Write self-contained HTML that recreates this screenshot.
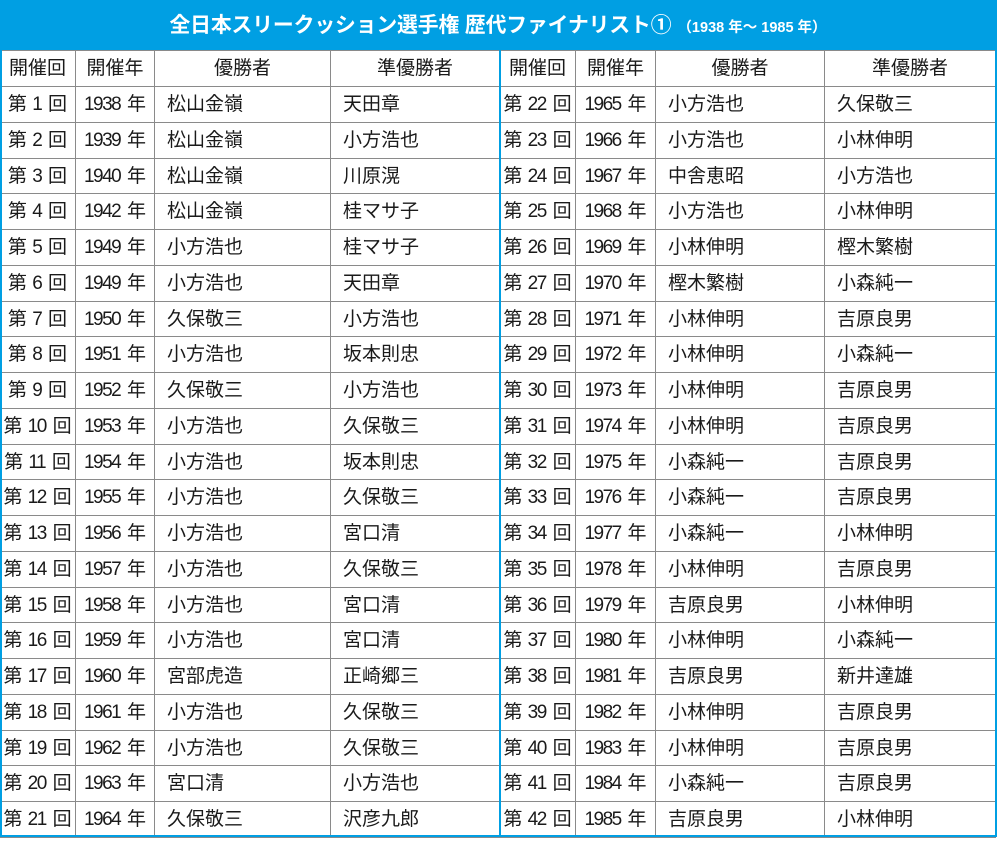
<!DOCTYPE html>
<html lang="ja">
<head>
<meta charset="utf-8">
<style>
  html,body{margin:0;padding:0;background:#fff;}
  body{width:1000px;height:842px;position:relative;overflow:hidden;
    font-family:"Liberation Sans","Noto Sans CJK JP",sans-serif;color:#1a1a1a;}
  .title{position:absolute;left:0;top:0;width:996px;height:50px;background:#009fe3;
    color:#fff;font-weight:bold;text-align:center;line-height:52px;white-space:nowrap;}
  .title .m{font-size:20.8px;letter-spacing:-0.1px;}
  .title .s{font-size:14.5px;margin-left:6px;}
  .grid{position:absolute;left:0;top:50px;width:996px;display:grid;
    grid-template-columns:76px 79px 176px 169px 76px 80px 169px 171px;
    grid-template-rows:36px repeat(21,35.75px);
    border-top:1px solid #8a8a8a;box-sizing:border-box;}
  .grid div{border-right:1px solid #8a8a8a;border-bottom:1px solid #8a8a8a;box-sizing:border-box;
    display:block;text-align:center;font-size:19px;line-height:35px;white-space:nowrap;overflow:hidden;}
  .grid div.n{text-align:left;padding-left:12px;}
  .grid div.h{text-align:center;padding-left:0;}
  .d{letter-spacing:-1.5px;margin-right:1.5px;}
  .b{position:absolute;background:#009fe3;}
</style>
</head>
<body>
<div class="title"><span class="m">全日本スリークッション選手権 歴代ファイナリスト①</span><span class="s">（1938 年～ 1985 年）</span></div>
<div class="grid">
<div class="h">開催回</div><div class="h">開催年</div><div class="h">優勝者</div><div class="h">準優勝者</div><div class="h">開催回</div><div class="h">開催年</div><div class="h">優勝者</div><div class="h">準優勝者</div>

<div>第 <span class="d">1</span> 回</div><div><span class="d">1938</span> 年</div><div class="n">松山金嶺</div><div class="n">天田章</div>
<div>第 <span class="d">22</span> 回</div><div><span class="d">1965</span> 年</div><div class="n">小方浩也</div><div class="n">久保敬三</div>

<div>第 <span class="d">2</span> 回</div><div><span class="d">1939</span> 年</div><div class="n">松山金嶺</div><div class="n">小方浩也</div>
<div>第 <span class="d">23</span> 回</div><div><span class="d">1966</span> 年</div><div class="n">小方浩也</div><div class="n">小林伸明</div>

<div>第 <span class="d">3</span> 回</div><div><span class="d">1940</span> 年</div><div class="n">松山金嶺</div><div class="n">川原滉</div>
<div>第 <span class="d">24</span> 回</div><div><span class="d">1967</span> 年</div><div class="n">中舎恵昭</div><div class="n">小方浩也</div>

<div>第 <span class="d">4</span> 回</div><div><span class="d">1942</span> 年</div><div class="n">松山金嶺</div><div class="n">桂マサ子</div>
<div>第 <span class="d">25</span> 回</div><div><span class="d">1968</span> 年</div><div class="n">小方浩也</div><div class="n">小林伸明</div>

<div>第 <span class="d">5</span> 回</div><div><span class="d">1949</span> 年</div><div class="n">小方浩也</div><div class="n">桂マサ子</div>
<div>第 <span class="d">26</span> 回</div><div><span class="d">1969</span> 年</div><div class="n">小林伸明</div><div class="n">樫木繁樹</div>

<div>第 <span class="d">6</span> 回</div><div><span class="d">1949</span> 年</div><div class="n">小方浩也</div><div class="n">天田章</div>
<div>第 <span class="d">27</span> 回</div><div><span class="d">1970</span> 年</div><div class="n">樫木繁樹</div><div class="n">小森純一</div>

<div>第 <span class="d">7</span> 回</div><div><span class="d">1950</span> 年</div><div class="n">久保敬三</div><div class="n">小方浩也</div>
<div>第 <span class="d">28</span> 回</div><div><span class="d">1971</span> 年</div><div class="n">小林伸明</div><div class="n">吉原良男</div>

<div>第 <span class="d">8</span> 回</div><div><span class="d">1951</span> 年</div><div class="n">小方浩也</div><div class="n">坂本則忠</div>
<div>第 <span class="d">29</span> 回</div><div><span class="d">1972</span> 年</div><div class="n">小林伸明</div><div class="n">小森純一</div>

<div>第 <span class="d">9</span> 回</div><div><span class="d">1952</span> 年</div><div class="n">久保敬三</div><div class="n">小方浩也</div>
<div>第 <span class="d">30</span> 回</div><div><span class="d">1973</span> 年</div><div class="n">小林伸明</div><div class="n">吉原良男</div>

<div>第 <span class="d">10</span> 回</div><div><span class="d">1953</span> 年</div><div class="n">小方浩也</div><div class="n">久保敬三</div>
<div>第 <span class="d">31</span> 回</div><div><span class="d">1974</span> 年</div><div class="n">小林伸明</div><div class="n">吉原良男</div>

<div>第 <span class="d">11</span> 回</div><div><span class="d">1954</span> 年</div><div class="n">小方浩也</div><div class="n">坂本則忠</div>
<div>第 <span class="d">32</span> 回</div><div><span class="d">1975</span> 年</div><div class="n">小森純一</div><div class="n">吉原良男</div>

<div>第 <span class="d">12</span> 回</div><div><span class="d">1955</span> 年</div><div class="n">小方浩也</div><div class="n">久保敬三</div>
<div>第 <span class="d">33</span> 回</div><div><span class="d">1976</span> 年</div><div class="n">小森純一</div><div class="n">吉原良男</div>

<div>第 <span class="d">13</span> 回</div><div><span class="d">1956</span> 年</div><div class="n">小方浩也</div><div class="n">宮口清</div>
<div>第 <span class="d">34</span> 回</div><div><span class="d">1977</span> 年</div><div class="n">小森純一</div><div class="n">小林伸明</div>

<div>第 <span class="d">14</span> 回</div><div><span class="d">1957</span> 年</div><div class="n">小方浩也</div><div class="n">久保敬三</div>
<div>第 <span class="d">35</span> 回</div><div><span class="d">1978</span> 年</div><div class="n">小林伸明</div><div class="n">吉原良男</div>

<div>第 <span class="d">15</span> 回</div><div><span class="d">1958</span> 年</div><div class="n">小方浩也</div><div class="n">宮口清</div>
<div>第 <span class="d">36</span> 回</div><div><span class="d">1979</span> 年</div><div class="n">吉原良男</div><div class="n">小林伸明</div>

<div>第 <span class="d">16</span> 回</div><div><span class="d">1959</span> 年</div><div class="n">小方浩也</div><div class="n">宮口清</div>
<div>第 <span class="d">37</span> 回</div><div><span class="d">1980</span> 年</div><div class="n">小林伸明</div><div class="n">小森純一</div>

<div>第 <span class="d">17</span> 回</div><div><span class="d">1960</span> 年</div><div class="n">宮部虎造</div><div class="n">正崎郷三</div>
<div>第 <span class="d">38</span> 回</div><div><span class="d">1981</span> 年</div><div class="n">吉原良男</div><div class="n">新井達雄</div>

<div>第 <span class="d">18</span> 回</div><div><span class="d">1961</span> 年</div><div class="n">小方浩也</div><div class="n">久保敬三</div>
<div>第 <span class="d">39</span> 回</div><div><span class="d">1982</span> 年</div><div class="n">小林伸明</div><div class="n">吉原良男</div>

<div>第 <span class="d">19</span> 回</div><div><span class="d">1962</span> 年</div><div class="n">小方浩也</div><div class="n">久保敬三</div>
<div>第 <span class="d">40</span> 回</div><div><span class="d">1983</span> 年</div><div class="n">小林伸明</div><div class="n">吉原良男</div>

<div>第 <span class="d">20</span> 回</div><div><span class="d">1963</span> 年</div><div class="n">宮口清</div><div class="n">小方浩也</div>
<div>第 <span class="d">41</span> 回</div><div><span class="d">1984</span> 年</div><div class="n">小森純一</div><div class="n">吉原良男</div>

<div>第 <span class="d">21</span> 回</div><div><span class="d">1964</span> 年</div><div class="n">久保敬三</div><div class="n">沢彦九郎</div>
<div>第 <span class="d">42</span> 回</div><div><span class="d">1985</span> 年</div><div class="n">吉原良男</div><div class="n">小林伸明</div>
</div>
<!-- blue frame -->
<div class="b" style="left:0;top:50px;width:2px;height:787px;"></div>
<div class="b" style="left:995px;top:0;width:2px;height:837px;"></div>
<div class="b" style="left:499px;top:50px;width:2px;height:787px;"></div>
<div class="b" style="left:0;top:835px;width:997px;height:2px;"></div>
</body>
</html>
